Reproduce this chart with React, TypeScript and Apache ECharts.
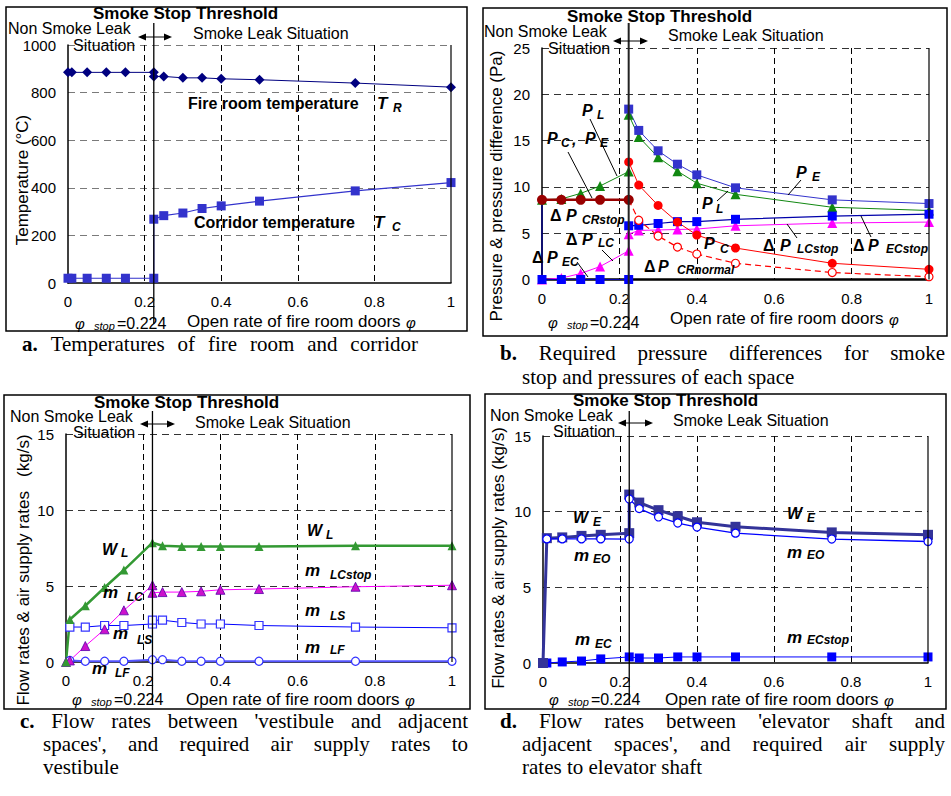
import React, { useEffect, useRef } from "react";
import * as echarts from "echarts";

const SANS = '"Liberation Sans", Arial, Helvetica, sans-serif';
const SERIF = '"Liberation Serif", "Times New Roman", serif';

// ---------------- data ----------------
// panel a
const openRate = [0, 0.01, 0.05, 0.1, 0.15, 0.224, 0.224, 0.25, 0.3, 0.35, 0.4, 0.5, 0.75, 1];
const fireRoomTemp = [885, 885, 885, 885, 885, 885, 868, 868, 862, 862, 858, 854, 840, 823];
const corridorTemp = [20, 20, 20, 20, 20, 20, 268, 283, 294, 313, 324, 344, 387, 422];

// panel b
const rateBefore = [0, 0.05, 0.1, 0.15, 0.224];
const rateAfter = [0.224, 0.25, 0.3, 0.35, 0.4, 0.5, 0.75, 1];
const pressureCEBefore = [8.6, 8.6, 8.6, 8.6, 8.6];
const pressureLBefore = [8.6, 8.7, 9.3, 10.1, 11.65];
const pressureLAfter = [17.8, 15.4, 13.2, 11.7, 10.4, 9.2, 7.8, 7.45];
const pressureEAfter = [18.4, 16.1, 13.9, 12.45, 11.3, 9.9, 8.6, 8.2];
const pressureCAfter = [12.7, 10.2, 8.0, 6.2, 4.8, 3.4, 1.75, 1.1];
const dpCRnormal = [8.6, 6.4, 4.7, 3.5, 2.75, 1.75, 0.75, 0.3];
const dpLCBefore = [0, 0.15, 0.65, 1.4, 3.1];
const dpLCAfter = [4.9, 5.3, 5.35, 5.4, 5.45, 5.8, 6.1, 6.2];
const dpECBefore = [0, 0, 0, 0, 0];
const dpECAfter = [5.8, 5.85, 6.05, 6.25, 6.25, 6.5, 6.85, 7.05];
const pressureRiseX = [0, 0];
const pressureRiseY = [0, 8.6];

// panel c
const rateSingle = [0, 0.01, 0.05, 0.1, 0.15, 0.224, 0.25, 0.3, 0.35, 0.4, 0.5, 0.75, 1];
const rateFrom001 = [0.01, 0.05, 0.1, 0.15, 0.224, 0.224, 0.25, 0.3, 0.35, 0.4, 0.5, 0.75, 1];
const rateSingleFrom001 = [0.01, 0.05, 0.1, 0.15, 0.224, 0.25, 0.3, 0.35, 0.4, 0.5, 0.75, 1];
const flowWL = [0, 2.8, 3.7, 4.9, 6.05, 7.85, 7.65, 7.6, 7.6, 7.6, 7.6, 7.65, 7.65];
const flowMLC = [0, 0.1, 1.05, 2.15, 3.4, 5.05, 4.55, 4.6, 4.6, 4.65, 4.75, 4.8, 4.95, 5.05];
const flowMLS = [2.3, 2.3, 2.4, 2.4, 2.5, 2.75, 2.75, 2.6, 2.5, 2.5, 2.4, 2.3, 2.25];
const flowMLF = [0.1, 0.05, 0.05, 0.05, 0.15, 0.15, 0.05, 0.05, 0.05, 0.05, 0.05, 0.05];

// panel d
const flowWE = [0, 8.25, 8.3, 8.4, 8.47, 8.58, 11.13, 10.6, 10.1, 9.7, 9.3, 9.0, 8.63, 8.47];
const flowMEO = [8.2, 8.2, 8.2, 8.2, 8.19, 10.84, 10.2, 9.65, 9.25, 8.98, 8.58, 8.19, 8.03];
const flowMEC = [0, 0, 0.07, 0.13, 0.27, 0.4, 0.33, 0.33, 0.4, 0.4, 0.4, 0.4, 0.4];

// axes
const xMax = 1;
const xStep = 0.2;
const yMaxes = [1000, 25, 15, 15];
const ySteps = [200, 5, 5, 5];
const stopRate = 0.224;

const zip = (xs: number[], ys: number[]) => xs.map((x, i) => [x, ys[i]]);

// ---------------- layout ----------------
const GRIDS = [
  { left: 68, top: 45, width: 383, height: 238 },
  { left: 542, top: 48, width: 387, height: 231.5 },
  { left: 66, top: 434, width: 386, height: 228 },
  { left: 543, top: 436, width: 385, height: 227 },
];

const F = {
  title: `bold 17px ${SANS}`,
  reg: `16px ${SANS}`,
  axis: `17px ${SANS}`,
  main: `italic bold 17px ${SANS}`,
  mainB: `italic bold 16px ${SANS}`,
  sub: `italic bold 12px ${SANS}`,
  delta: `bold 16px ${SANS}`,
  lab: `bold 16px ${SANS}`,
  phi: `italic 15px ${SANS}`,
  stop: `italic 11px ${SANS}`,
  cap: `21px ${SERIF}`,
  capB: `bold 21px ${SERIF}`,
};

function T(x: number, y: number, text: string, font: string, extra: any = {}, rotation = 0) {
  return {
    type: "text",
    x,
    y,
    rotation,
    silent: true,
    z: 100,
    style: {
      text,
      font,
      fill: "#000",
      textAlign: extra.align || "left",
      align: extra.align || "left",
      textVerticalAlign: "middle",
      verticalAlign: "middle",
    },
  };
}

function L(x1: number, y1: number, x2: number, y2: number, w = 1, color = "#000") {
  return {
    type: "line",
    silent: true,
    z: 100,
    shape: { x1, y1, x2, y2 },
    style: { stroke: color, lineWidth: w },
  };
}

function arrow(x1: number, x2: number, y: number) {
  return [
    L(x1 + 2, y, x2 - 2, y, 1),
    {
      type: "polygon",
      silent: true,
      z: 100,
      shape: { points: [[x1, y], [x1 + 8, y - 3.5], [x1 + 8, y + 3.5]] },
      style: { fill: "#000" },
    },
    {
      type: "polygon",
      silent: true,
      z: 100,
      shape: { points: [[x2, y], [x2 - 8, y - 3.5], [x2 - 8, y + 3.5]] },
      style: { fill: "#000" },
    },
  ];
}

function header(h: any) {
  return [
    T(h.tx, h.ty, "Smoke Stop Threshold", F.title),
    T(h.nx, h.ny, "Non Smoke Leak", F.reg),
    T(h.sx, h.sy, "Situation", F.reg),
    T(h.lx, h.ly, "Smoke Leak Situation", F.reg),
    ...arrow(h.ax1, h.ax2, h.ay),
  ];
}

function stopLabel(x: number, y: number) {
  return [
    T(x, y, "φ", F.phi),
    T(x + 19, y + 3, "stop", F.stop),
    T(x + 42, y, "=0.224", `16px ${SANS}`),
  ];
}

function xTitle(x: number, y: number) {
  return [T(x, y, "Open rate of fire room doors", F.axis), T(x + 219, y + 1, "φ", F.phi)];
}

function measure(text: string, font: string) {
  const c = document.createElement("canvas").getContext("2d");
  if (!c) return text.length * 9;
  c.font = font;
  return c.measureText(text).width;
}

function justify(x1: number, x2: number, y: number, words: string[], boldFirst: boolean) {
  const fonts = words.map((_, i) => (i === 0 && boldFirst ? F.capB : F.cap));
  const widths = words.map((w, i) => measure(w, fonts[i]));
  const total = widths.reduce((a, b) => a + b, 0);
  const gap = (x2 - x1 - total) / (words.length - 1);
  let x = x1;
  return words.map((w, i) => {
    const el = T(x, y, w, fonts[i]);
    x += widths[i] + gap;
    return el;
  });
}

function plain(x: number, y: number, words: string[], boldFirst: boolean) {
  const space = measure(" ", F.cap);
  let x0 = x;
  return words.map((w, i) => {
    const f = i === 0 && boldFirst ? F.capB : F.cap;
    const el = T(x0, y, w, f);
    x0 += measure(w, f) + space;
    return el;
  });
}

function buildOption() {
  const xAxis = GRIDS.map((_, i) => ({
    gridIndex: i,
    type: "value",
    min: 0,
    max: xMax,
    interval: xStep,
    axisLine: { show: true, onZero: false, lineStyle: { color: "#000", width: i === 1 ? 2.5 : 1.5 } },
    axisTick: { show: false },
    axisLabel: { color: "#000", fontSize: 15, fontFamily: SANS, margin: 11, formatter: (v: number) => String(v) },
    splitLine: {
      show: true,
      showMinLine: false,
      showMaxLine: false,
      lineStyle: { color: "#000", type: [6, 4], width: 1 },
    },
  }));
  const yAxis = GRIDS.map((_, i) => ({
    gridIndex: i,
    type: "value",
    min: 0,
    max: yMaxes[i],
    interval: ySteps[i],
    axisLine: { show: true, onZero: false, lineStyle: { color: "#000", width: 1.5 } },
    axisTick: { show: false },
    axisLabel: { color: "#000", fontSize: 15, fontFamily: SANS, margin: 12, formatter: (v: number) => String(v) },
    splitLine: {
      show: true,
      showMinLine: false,
      lineStyle: { color: i === 0 ? "#7a7a7a" : "#333", type: [7, 5], width: 1 },
    },
  }));

  const base = (gi: number) => ({ type: "line", xAxisIndex: gi, yAxisIndex: gi, silent: true, showSymbol: true });

  const series: any[] = [
    // a
    {
      ...base(0),
      name: "Fire room temperature",
      data: zip(openRate, fireRoomTemp),
      symbol: "diamond",
      symbolSize: 10,
      itemStyle: { color: "#000080" },
      lineStyle: { color: "#000080", width: 1 },
    },
    {
      ...base(0),
      name: "Corridor temperature",
      data: zip(openRate, corridorTemp),
      symbol: "rect",
      symbolSize: 9,
      itemStyle: { color: "#3333cc" },
      lineStyle: { color: "#3333cc", width: 1.2 },
    },
    // b
    {
      ...base(1),
      name: "P_L",
      data: [...zip(rateBefore, pressureLBefore), ...zip(rateAfter, pressureLAfter)],
      symbol: "triangle",
      symbolSize: 10,
      itemStyle: { color: "#118811" },
      lineStyle: { color: "#118811", width: 1 },
    },
    {
      ...base(1),
      name: "P_E",
      data: zip(rateAfter, pressureEAfter),
      symbol: "rect",
      symbolSize: 9,
      itemStyle: { color: "#3333cc" },
      lineStyle: { color: "#3333cc", width: 1 },
    },
    {
      ...base(1),
      name: "dP_LC",
      data: [...zip(rateBefore, dpLCBefore), ...zip(rateAfter, dpLCAfter)],
      symbol: "triangle",
      symbolSize: 10,
      itemStyle: { color: "#ff00ff" },
      lineStyle: { color: "#ff00ff", width: 1 },
    },
    {
      ...base(1),
      name: "dP_EC",
      data: [...zip(rateBefore, dpECBefore), ...zip(rateAfter, dpECAfter)],
      symbol: "rect",
      symbolSize: 9,
      itemStyle: { color: "#0000ff" },
      lineStyle: { color: "#0000aa", width: 1.2 },
    },
    {
      ...base(1),
      name: "dP_CRnormal",
      data: zip(rateAfter, dpCRnormal),
      symbol: "circle",
      symbolSize: 8,
      itemStyle: { color: "#fff", borderColor: "#ff0000", borderWidth: 1.2 },
      lineStyle: { color: "#ff0000", width: 1.2, type: [6, 4] },
    },
    {
      ...base(1),
      name: "P_C",
      data: zip(rateAfter, pressureCAfter),
      symbol: "circle",
      symbolSize: 9,
      itemStyle: { color: "#ff0000" },
      lineStyle: { color: "#ff0000", width: 1 },
    },
    {
      ...base(1),
      name: "P_C=P_E",
      data: zip(rateBefore, pressureCEBefore),
      symbol: "circle",
      symbolSize: 10,
      itemStyle: { color: "#990000" },
      lineStyle: { color: "#990000", width: 2.5 },
    },
    {
      ...base(1),
      name: "rise",
      data: zip(pressureRiseX, pressureRiseY),
      showSymbol: false,
      symbol: "none",
      lineStyle: { color: "#000080", width: 1.5 },
    },
    // c
    {
      ...base(2),
      name: "m_LF",
      data: zip(rateSingleFrom001, flowMLF),
      symbol: "circle",
      symbolSize: 8,
      itemStyle: { color: "#fff", borderColor: "#3333ff", borderWidth: 1.2 },
      lineStyle: { color: "#5555ff", width: 2 },
    },
    {
      ...base(2),
      name: "m_LS",
      data: zip(rateFrom001, flowMLS),
      symbol: "rect",
      symbolSize: 8,
      itemStyle: { color: "#fff", borderColor: "#3333ff", borderWidth: 1.2 },
      lineStyle: { color: "#0000ff", width: 1 },
    },
    {
      ...base(2),
      name: "m_LC",
      data: zip(openRate, flowMLC),
      symbol: "triangle",
      symbolSize: 9,
      itemStyle: { color: "#cc11cc", borderColor: "#5500aa", borderWidth: 0.8 },
      lineStyle: { color: "#ff00ff", width: 1 },
    },
    {
      ...base(2),
      name: "W_L",
      data: zip(rateSingle, flowWL),
      symbol: "triangle",
      symbolSize: 9,
      itemStyle: { color: "#339933" },
      lineStyle: { color: "#339933", width: 2.5 },
    },
    // d
    {
      ...base(3),
      name: "m_EC",
      data: zip(rateSingle, flowMEC),
      symbol: "rect",
      symbolSize: 9,
      itemStyle: { color: "#0000ff" },
      lineStyle: { color: "#0000ff", width: 1 },
    },
    {
      ...base(3),
      name: "W_E",
      data: zip(openRate, flowWE),
      symbol: "rect",
      symbolSize: 10,
      itemStyle: { color: "#333399" },
      lineStyle: { color: "#333399", width: 3 },
    },
    {
      ...base(3),
      name: "m_EO",
      data: zip(rateFrom001, flowMEO),
      symbol: "circle",
      symbolSize: 8,
      itemStyle: { color: "#fff", borderColor: "#0000ff", borderWidth: 1.2 },
      lineStyle: { color: "#0000ff", width: 1.3 },
    },
  ];

  return {
    animation: false,
    backgroundColor: "#fff",
    grid: GRIDS.map((g) => ({ ...g, containLabel: false })),
    xAxis,
    yAxis,
    series,
  };
}

function buildGraphic(stopX: number[]) {
  const g: any[] = [];
  // frames
  const frames = [
    [6, 7, 461, 324],
    [483, 8, 464, 328],
    [4, 395, 466, 314],
    [485, 394, 461, 315],
  ];
  frames.forEach(([x, y, w, h]) =>
    g.push({
      type: "rect",
      silent: true,
      z: 90,
      shape: { x, y, width: w, height: h },
      style: { fill: "none", stroke: "#000", lineWidth: 1.5 },
    })
  );
  // right borders of plots
  GRIDS.forEach((gr) => g.push(L(gr.left + gr.width, gr.top, gr.left + gr.width, gr.top + gr.height, 1.2)));

  // threshold lines
  const ranges = [
    [23, 324],
    [23, 330],
    [411, 704],
    [411, 704],
  ];
  stopX.forEach((x, i) => g.push(L(x, ranges[i][0], x, ranges[i][1], i === 1 ? 2 : 1.3, i === 1 ? "#222" : "#000")));

  // headers
  g.push(...header({ tx: 93, ty: 13, nx: 8, ny: 28, sx: 73, sy: 45, lx: 193, ly: 33, ax1: 138, ax2: 172, ay: 37 }));
  g.push(...header({ tx: 567, ty: 16, nx: 484, ny: 31, sx: 548, sy: 48, lx: 668, ly: 35, ax1: 613, ax2: 648, ay: 41 }));
  g.push(...header({ tx: 94, ty: 402, nx: 10, ny: 416, sx: 73, sy: 432, lx: 195, ly: 422, ax1: 140, ax2: 175, ay: 424 }));
  g.push(...header({ tx: 573, ty: 400, nx: 490, ny: 415, sx: 553, sy: 431, lx: 673, ly: 420, ax1: 618, ax2: 653, ay: 423 }));

  // y titles
  g.push(T(22, 180, "Temperature (°C)", F.axis, { align: "center" }, Math.PI / 2));
  g.push(T(496, 186, "Pressure & pressure difference (Pa)", F.axis, { align: "center" }, Math.PI / 2));
  g.push(T(23, 570, "Flow rates & air supply rates   (kg/s)", F.axis, { align: "center" }, Math.PI / 2));
  g.push(T(498, 558, "Flow rates & air supply rates (kg/s)", F.axis, { align: "center" }, Math.PI / 2));

  // x titles + stop labels
  g.push(...xTitle(187, 321), ...stopLabel(75, 323));
  g.push(...xTitle(670, 318), ...stopLabel(548, 322));
  g.push(...xTitle(186, 699), ...stopLabel(72, 699));
  g.push(...xTitle(665, 699), ...stopLabel(549, 699));

  // panel a labels
  g.push(T(188, 103, "Fire room temperature", F.lab), T(377, 103, "T", F.main), T(393, 108, "R", F.sub));
  g.push(T(194, 222, "Corridor temperature", F.lab), T(374, 222, "T", F.main), T(392, 227, "C", F.sub));

  // panel b labels
  g.push(T(582, 110, "P", F.mainB), T(597, 115, "L", F.sub));
  g.push(T(547, 138, "P", F.mainB), T(561, 143, "C", F.sub), T(572, 139, ",", F.mainB), T(585, 138, "P", F.mainB), T(600, 143, "E", F.sub));
  g.push(T(550, 215, "Δ", F.delta), T(566, 215, "P", F.mainB), T(582, 220, "CRstop", F.sub));
  g.push(T(566, 239, "Δ", F.delta), T(582, 239, "P", F.mainB), T(598, 243, "LC", F.sub));
  g.push(T(532, 257, "Δ", F.delta), T(547, 257, "P", F.mainB), T(562, 262, "EC", F.sub));
  g.push(T(644, 266, "Δ", F.delta), T(658, 266, "P", F.mainB), T(677, 270, "CRnormal", F.sub));
  g.push(T(702, 203, "P", F.mainB), T(716, 209, "L", F.sub));
  g.push(T(704, 243, "P", F.mainB), T(720, 249, "C", F.sub));
  g.push(T(796, 172, "P", F.mainB), T(812, 177, "E", F.sub));
  g.push(T(763, 245, "Δ", F.delta), T(780, 245, "P", F.mainB), T(797, 249, "LCstop", F.sub));
  g.push(T(853, 245, "Δ", F.delta), T(868, 245, "P", F.mainB), T(886, 249, "ECstop", F.sub));
  [
    [590, 119, 617, 176],
    [568, 152, 592, 198],
    [602, 250, 613, 261],
    [577, 262, 588, 277],
    [717, 201, 728, 191],
    [801, 180, 788, 195],
    [787, 224, 797, 238],
    [861, 216, 871, 237],
  ].forEach(([a, b, c, d]) => g.push(L(a, b, c, d, 1)));

  // panel c labels
  g.push(T(102, 549, "W", F.mainB), T(121, 553, "L", F.sub));
  g.push(T(307, 530, "W", F.mainB), T(326, 535, "L", F.sub));
  g.push(T(305, 570, "m", F.main), T(330, 575, "LCstop", F.sub));
  g.push(T(103, 592, "m", F.main), T(127, 597, "LC", F.sub));
  g.push(T(305, 610, "m", F.main), T(330, 616, "LS", F.sub));
  g.push(T(113, 633, "m", F.main), T(137, 640, "LS", F.sub));
  g.push(T(305, 647, "m", F.main), T(330, 650, "LF", F.sub));
  g.push(T(92, 668, "m", F.main), T(115, 673, "LF", F.sub));

  // panel d labels
  g.push(T(573, 517, "W", F.mainB), T(593, 522, "E", F.sub));
  g.push(T(787, 513, "W", F.mainB), T(807, 518, "E", F.sub));
  g.push(T(574, 555, "m", F.main), T(593, 559, "EO", F.sub));
  g.push(T(787, 552, "m", F.main), T(807, 555, "EO", F.sub));
  g.push(T(575, 639, "m", F.main), T(595, 644, "EC", F.sub));
  g.push(T(787, 637, "m", F.main), T(807, 640, "ECstop", F.sub));

  // captions
  g.push(...justify(22, 418, 344, ["a.", "Temperatures", "of", "fire", "room", "and", "corridor"], true));
  g.push(...justify(500, 945, 353, ["b.", "Required", "pressure", "differences", "for", "smoke"], true));
  g.push(...plain(522, 377, ["stop", "and", "pressures", "of", "each", "space"], false));
  g.push(...justify(20, 468, 721, ["c.", "Flow", "rates", "between", "'vestibule", "and", "adjacent"], true));
  g.push(...justify(43, 468, 744, ["spaces',", "and", "required", "air", "supply", "rates", "to"], false));
  g.push(...plain(43, 767, ["vestibule"], false));
  g.push(...justify(500, 945, 721, ["d.", "Flow", "rates", "between", "'elevator", "shaft", "and"], true));
  g.push(...justify(522, 945, 744, ["adjacent", "spaces',", "and", "required", "air", "supply"], false));
  g.push(...plain(522, 767, ["rates", "to", "elevator", "shaft"], false));

  return g;
}

export default function App() {
  const ref = useRef<HTMLDivElement>(null);
  useEffect(() => {
    if (!ref.current) return;
    const chart = echarts.init(ref.current, undefined, { renderer: "svg", width: 951, height: 796 });
    chart.setOption(buildOption() as any);
    const stopX = GRIDS.map((_, i) => {
      const p = chart.convertToPixel({ gridIndex: i } as any, [stopRate, 0]) as any;
      return Array.isArray(p) ? p[0] : GRIDS[i].left + stopRate * GRIDS[i].width;
    });
    chart.setOption({ graphic: buildGraphic(stopX) } as any);
    return () => chart.dispose();
  }, []);
  return (
    <div
      ref={ref}
      style={{ position: "fixed", left: 0, top: 0, width: 951, height: 796, background: "#fff" }}
    />
  );
}
